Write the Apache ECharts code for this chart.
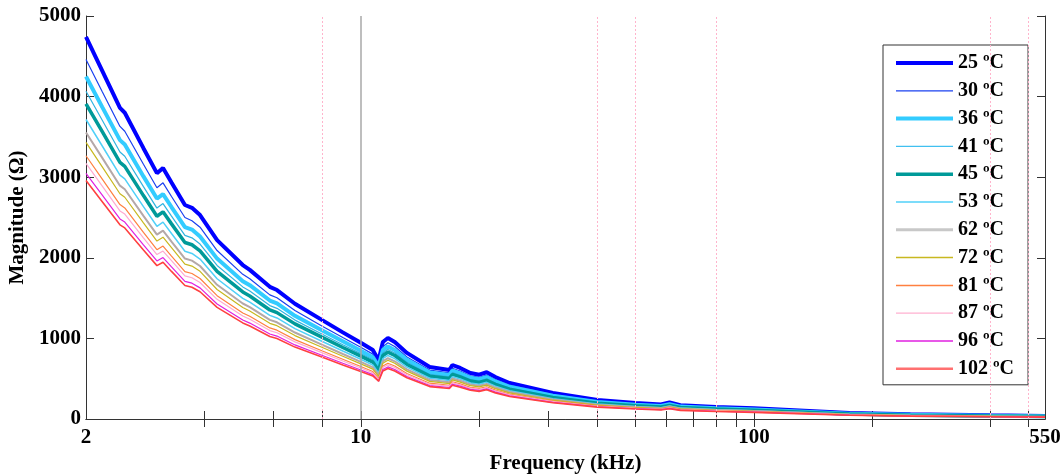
<!DOCTYPE html>
<html>
<head>
<meta charset="utf-8">
<script src="https://cdn.jsdelivr.net/npm/echarts@6/dist/echarts.min.js"></script>
<style>
  html, body { margin: 0; padding: 0; background: #fff; }
  #chart { width: 1063px; height: 475px; }
</style>
</head>
<body>
<div id="chart"></div>
<script>
// 频率 (kHz)
const freq = [2, 2.2, 2.44, 2.51, 2.8, 3.03, 3.14, 3.3, 3.57, 3.72, 3.9, 4.31, 5.01, 5.22, 5.87, 6.12, 6.8, 7.96, 9, 10,
  10.73, 11.1, 11.38, 11.72, 12.2, 13.1, 14.97, 16.8, 17.1, 17.9, 19, 20, 20.9, 22, 23.9, 30.8, 40, 50, 58, 61, 65, 80, 100, 175, 250, 400, 550]

const temps = ['25 ºC', '30 ºC', '36 ºC', '41 ºC', '45 ºC', '53 ºC', '62 ºC', '72 ºC', '81 ºC', '87 ºC', '96 ºC', '102 ºC']

const mag25 = [4740, 4320, 3860, 3800, 3360, 3050, 3115, 2935, 2655, 2620, 2530, 2220, 1910, 1850, 1640, 1600, 1430, 1230, 1075, 945,
  855, 730, 955, 1005, 955, 820, 645, 608, 670, 633, 571, 550, 580, 520, 447, 322, 236, 198, 180, 205, 172, 149, 132, 74, 58, 45, 37]
const mag30 = [4460, 4060, 3630, 3570, 3160, 2870, 2930, 2760, 2500, 2460, 2380, 2090, 1795, 1740, 1540, 1505, 1345, 1155, 1010, 890,
  805, 690, 895, 945, 900, 770, 607, 572, 630, 595, 537, 517, 545, 489, 420, 303, 222, 186, 170, 193, 162, 140, 124, 70, 55, 42, 35]
const mag36 = [4250, 3870, 3460, 3405, 3010, 2735, 2790, 2630, 2380, 2350, 2265, 1990, 1710, 1660, 1470, 1435, 1280, 1100, 965, 847,
  766, 654, 856, 900, 856, 735, 578, 545, 600, 567, 512, 493, 520, 466, 400, 289, 211, 177, 161, 184, 154, 134, 118, 66, 52, 40, 33]
const mag41 = [4067, 3707, 3312, 3260, 2883, 2617, 2673, 2518, 2278, 2248, 2171, 1905, 1639, 1587, 1407, 1373, 1227, 1055, 922, 811,
  734, 626, 819, 862, 819, 704, 553, 522, 575, 543, 490, 472, 498, 446, 384, 276, 202, 170, 154, 176, 148, 128, 113, 64, 50, 39, 32]
const mag45 = [3911, 3564, 3185, 3135, 2772, 2516, 2570, 2421, 2190, 2162, 2087, 1832, 1576, 1526, 1353, 1320, 1180, 1015, 887, 780,
  705, 602, 788, 829, 788, 677, 532, 502, 553, 522, 471, 454, 479, 429, 369, 266, 195, 163, 149, 169, 142, 123, 109, 61, 48, 37, 31]
const mag53 = [3716, 3387, 3026, 2979, 2634, 2391, 2442, 2301, 2082, 2054, 1984, 1740, 1497, 1450, 1286, 1254, 1121, 964, 843, 741,
  670, 572, 749, 788, 749, 643, 506, 477, 525, 496, 448, 431, 455, 408, 350, 252, 185, 155, 141, 161, 135, 117, 103, 58, 45, 35, 29]
const mag62 = [3555, 3240, 2895, 2850, 2520, 2288, 2336, 2201, 1991, 1965, 1898, 1665, 1433, 1388, 1230, 1200, 1073, 923, 806, 709,
  641, 548, 716, 754, 716, 615, 484, 456, 503, 475, 428, 413, 435, 390, 335, 242, 177, 149, 135, 154, 129, 112, 99, 56, 44, 34, 28]
const mag72 = [3432, 3128, 2795, 2751, 2433, 2208, 2255, 2125, 1922, 1897, 1832, 1607, 1383, 1339, 1187, 1158, 1035, 891, 778, 684,
  619, 529, 691, 728, 691, 594, 467, 440, 485, 458, 413, 398, 420, 376, 324, 233, 171, 143, 130, 148, 125, 108, 96, 54, 42, 33, 27]
const mag81 = [3266, 2976, 2660, 2618, 2315, 2101, 2146, 2022, 1829, 1805, 1743, 1530, 1316, 1275, 1130, 1102, 985, 847, 741, 651,
  589, 503, 658, 692, 658, 565, 444, 419, 462, 436, 393, 379, 400, 358, 308, 222, 163, 136, 124, 141, 119, 103, 91, 51, 40, 31, 25]
const mag87 = [3171, 2890, 2582, 2542, 2248, 2040, 2084, 1964, 1776, 1753, 1693, 1485, 1278, 1238, 1097, 1070, 957, 823, 719, 632,
  572, 488, 639, 672, 639, 549, 431, 407, 448, 423, 382, 368, 388, 348, 299, 215, 158, 132, 120, 137, 115, 100, 88, 50, 39, 30, 25]
const mag96 = [3048, 2778, 2482, 2443, 2160, 1961, 2003, 1887, 1707, 1685, 1627, 1427, 1228, 1190, 1055, 1029, 919, 791, 691, 608,
  550, 469, 614, 646, 614, 527, 415, 391, 431, 407, 367, 354, 373, 334, 287, 207, 152, 127, 116, 132, 111, 96, 85, 48, 37, 29, 24]
const mag102 = [2958, 2696, 2409, 2371, 2097, 1903, 1944, 1831, 1657, 1635, 1579, 1385, 1192, 1154, 1023, 998, 892, 768, 671, 590,
  534, 470, 596, 627, 596, 512, 402, 379, 418, 395, 356, 343, 362, 324, 279, 201, 147, 124, 112, 128, 107, 93, 82, 46, 36, 28, 23]

const mags = [mag25, mag30, mag36, mag41, mag45, mag53, mag62, mag72, mag81, mag87, mag96, mag102]

// 刻度
const xLabelValues = [2, 10, 100, 550]
const xTickValues = [4, 6, 8, 10, 20, 30, 40, 50, 60, 70, 80, 90, 100, 200, 400, 500]
const yTickValues = [0, 1000, 2000, 3000, 4000, 5000]
const pinkLines = [8, 40, 50, 80, 400, 500]

const colors = ['#0000ff', '#1a40f0', '#33ccff', '#30b4e0', '#009a99', '#50d0f8', '#b4a8a8',
  '#c8b820', '#ff8040', '#ffaad0', '#e020e0', '#ff4040']
const widths = [4, 1.2, 4, 1.2, 3.5, 1.5, 2, 1.2, 1.2, 1.2, 1.2, 1.6]
const legendColors = ['#0000ff', '#1a40f0', '#33ccff', '#40c0f0', '#009a99', '#50d0f8', '#c8c8c8',
  '#c8b820', '#ff8040', '#ffb0d0', '#e020e0', '#ff7070']
const legendWidths = [4, 1.2, 4, 1.2, 3.5, 1.5, 3, 1.5, 1.5, 1.2, 1.5, 2.5]

const font = 'Liberation Serif'
const textStyle = { fontFamily: font, fontWeight: 'bold', color: '#000' }

const series = temps.map((name, i) => ({
  name,
  type: 'line',
  symbol: 'none',
  color: colors[i],
  lineStyle: { width: widths[i], color: colors[i] },
  data: freq.map((f, j) => [f, mags[i][j]])
}))

// 竖直参考线：粉色虚线
series.push({
  type: 'line',
  data: [],
  silent: true,
  markLine: {
    symbol: 'none',
    silent: true,
    label: { show: false },
    lineStyle: { color: '#ffb4cc', type: [2, 2], width: 1 },
    data: pinkLines.map(v => ({ xAxis: v }))
  }
})
// 10 kHz 灰色实线
series.push({
  type: 'line',
  data: [],
  silent: true,
  markLine: {
    symbol: 'none',
    silent: true,
    label: { show: false },
    lineStyle: { color: '#a8a8a8', type: 'solid', width: 1.5 },
    data: [{ xAxis: 10 }]
  }
})

const tick = values => ({ show: true, inside: true, length: 8, customValues: values, lineStyle: { color: '#333', width: 1 } })

const chart = echarts.init(document.getElementById('chart'))
chart.setOption({
  animation: false,
  grid: { left: 86, right: 18, top: 16, bottom: 56, outerBoundsMode: 'none', containLabel: false },
  legend: {
    orient: 'vertical',
    left: 883,
    top: 45,
    padding: [8, 14, 6, 11],
    itemWidth: 57,
    itemHeight: 14,
    itemGap: 7.8,
    borderColor: '#333',
    borderWidth: 1,
    backgroundColor: '#fff',
    itemStyle: { opacity: 0 },
    data: temps.map((name, i) => ({
      name,
      lineStyle: { width: legendWidths[i], color: legendColors[i] }
    })),
    textStyle: { ...textStyle, fontSize: 20 }
  },
  xAxis: [
    {
      type: 'log',
      logBase: 10,
      min: 2,
      max: 550,
      name: 'Frequency (kHz)',
      nameLocation: 'middle',
      nameGap: 33,
      nameTextStyle: { ...textStyle, fontSize: 21 },
      axisLine: { lineStyle: { color: '#333' } },
      axisTick: tick(xTickValues),
      axisLabel: { ...textStyle, customValues: xLabelValues, margin: 8, fontSize: 21 },
      splitLine: { show: false },
      minorTick: { show: false }
    },
    {
      type: 'log',
      logBase: 10,
      min: 2,
      max: 550,
      position: 'top',
      axisLine: { lineStyle: { color: '#333' } },
      axisTick: tick(xTickValues),
      axisLabel: { show: false, customValues: xTickValues },
      splitLine: { show: false }
    }
  ],
  yAxis: [
    {
      type: 'value',
      min: 0,
      max: 5000,
      interval: 1000,
      name: 'Magnitude (Ω)',
      nameLocation: 'middle',
      nameGap: 52,
      nameTextStyle: { ...textStyle, fontSize: 21 },
      axisLine: { show: true, lineStyle: { color: '#333' } },
      axisTick: tick(yTickValues),
      axisLabel: { ...textStyle, margin: 5, fontSize: 21, formatter: v => String(v) },
      splitLine: { show: false }
    },
    {
      type: 'value',
      min: 0,
      max: 5000,
      interval: 1000,
      position: 'right',
      axisLine: { show: true, lineStyle: { color: '#333' } },
      axisTick: tick(yTickValues),
      axisLabel: { show: false, customValues: yTickValues },
      splitLine: { show: false }
    }
  ],
  series
})
</script>
</body>
</html>
